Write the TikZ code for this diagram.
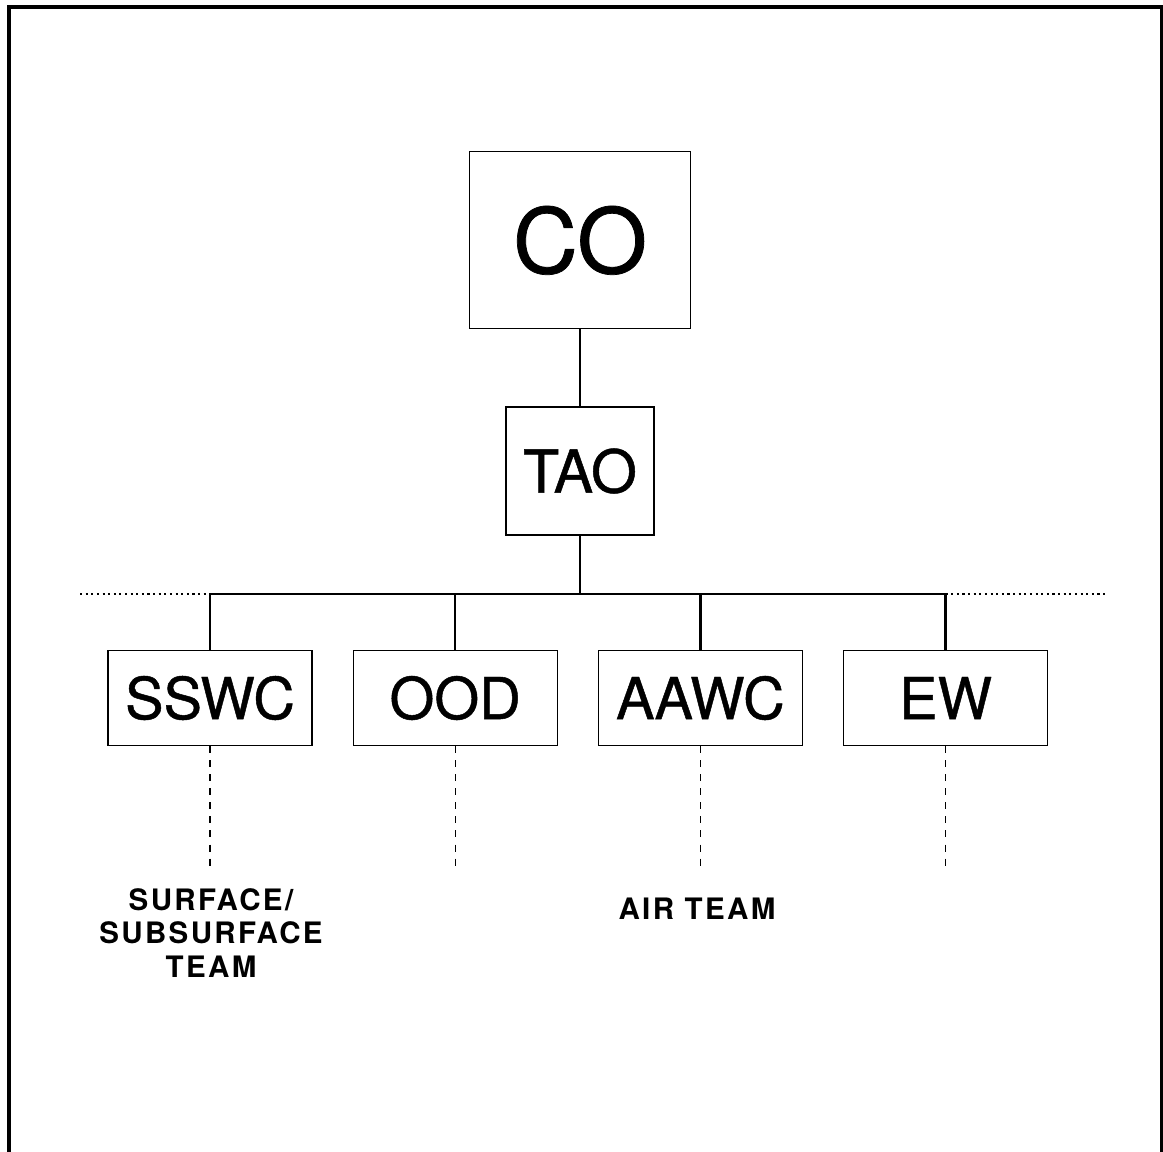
\documentclass[tikz,border=0pt]{standalone}
\usepackage{fontspec}
\setmainfont{TeX Gyre Heros}
\newfontfamily\postfont[FakeBold=0.8]{TeX Gyre Heros}
\newfontfamily\teamfont[LetterSpace=8]{TeX Gyre Heros}
\usepackage{tikz}
\usetikzlibrary{positioning}
\usepackage{xcolor}

\tikzset{
  post/.style={draw, line width=0.8pt, inner sep=0pt, minimum width=5.1cm, minimum height=2.375cm, font=\postfont\fontsize{41}{41}\selectfont},
  link/.style={line width=1.6pt},
  team/.style={line width=0.8pt, dash pattern=on 5pt off 5pt},
  rule/.style={line width=0.9pt, dash pattern=on 1.5pt off 2.5pt},
  teamlabel/.style={align=center, font=\teamfont\bfseries\fontsize{21}{24}\selectfont}
}

\begin{document}
\begin{tikzpicture}[x=0.025cm, y=-0.025cm]
		\useasboundingbox (0,0) rectangle (1163,1151);
		\clip (0,0) rectangle (1163,1151);

		% Frame
		\draw[line width=2.2pt] (9,7) rectangle (1162,1175);

		% Command chain
		\node[post, minimum width=3.7cm, minimum height=3.2cm, font=\postfont\fontsize{42}{42}\selectfont] (tao) at (580,471) {TAO};
		\node[post, minimum width=5.525cm, minimum height=4.425cm, font=\postfont\fontsize{64}{64}\selectfont, above=1.925cm of tao] (co) {CO};

		% Watch stations
		\node[post] (sswc) at (210,698) {SSWC};
		\node[post, right=1cm of sswc] (ood) {OOD};
		\node[post, right=1cm of ood] (aawc) {AAWC};
		\node[post, right=1cm of aawc] (ew) {EW};

		% Bus line
		\coordinate (bus) at (0,594);
		\coordinate (dotL) at (80,594);
		\coordinate (dotR) at (1105,594);
		\draw[link] (co.south) -- (tao.north);
		\draw[link] (tao.south) -- (tao.south |- bus);
		\draw[link] (sswc.north) -- (sswc.north |- bus) -- (ew.north |- bus) -- (ew.north);
		\draw[link] (ood.north) -- (ood.north |- bus);
		\draw[link] (aawc.north) -- (aawc.north |- bus);
		\draw[rule] (dotL) -- (sswc.north |- bus);
		\draw[rule] (ew.north |- bus) -- (dotR);

		% Team lines
		\foreach \n in {sswc, ood, aawc, ew} {
			\draw[team] (\n.south) -- ++(0,122) coordinate (\n end);
		}

		% Teams
		\node[teamlabel] (surface) at (211,933) {SURFACE/\\SUBSURFACE\\TEAM};
		\node[teamlabel] (air) at (697,909) {AIR TEAM};
	\end{tikzpicture}
\end{document}
